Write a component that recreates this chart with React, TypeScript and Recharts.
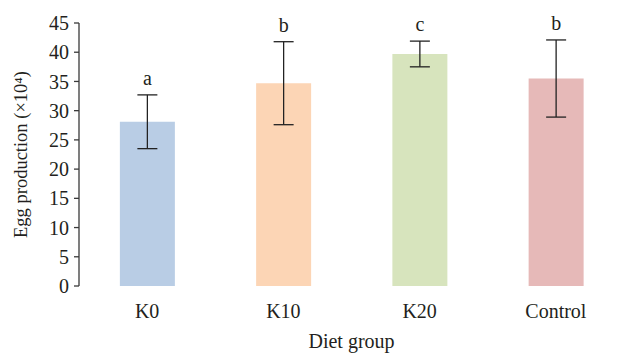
import { Bar, BarChart, Cell, ErrorBar, LabelList, XAxis, YAxis } from "recharts";

const GRUPOS = ["K0", "K10", "K20", "Control"];
const MEDIAS = [28.1, 34.7, 39.7, 35.5];
const DESVIOS = [4.6, 7.1, 2.2, 6.6];
const LETRAS = ["a", "b", "c", "b"];
const CORES = ["#b9cde5", "#fcd5b5", "#d7e4bd", "#e6b9b8"];
const TICKS_Y = [0, 5, 10, 15, 20, 25, 30, 35, 40, 45];
const LIMITES_X = [0, 1, 2, 3, 4];

const FONTE = "'Liberation Serif', 'DejaVu Serif', serif";
const TAM = 20;
const COR_TEXTO = "#231f20";
const COR_EIXO = "#3a3a3a";

const dados = GRUPOS.map((grupo, i) => ({
  grupo,
  media: MEDIAS[i],
  desvio: DESVIOS[i],
  letra: LETRAS[i],
}));

function LetraSignificancia(props: any) {
  const { x, y, width, height, value, index } = props;
  const pxPorUnidade = height / MEDIAS[index];
  const topoErro = y + height - (MEDIAS[index] + DESVIOS[index]) * pxPorUnidade;
  return (
    <text
      x={x + width / 2}
      y={topoErro - 10}
      textAnchor="middle"
      fill={COR_TEXTO}
      fontSize={TAM}
      fontFamily={FONTE}
    >
      {value}
    </text>
  );
}

export default function App() {
  return (
    <div
      style={{
        position: "absolute",
        left: 0,
        top: 0,
        width: 624,
        height: 353,
        background: "#fff",
      }}
    >
      <BarChart
        width={624}
        height={353}
        data={dados}
        margin={{ top: 23, right: 0, bottom: 0, left: 0 }}
        barCategoryGap="30%"
      >
        <XAxis
          xAxisId="limites"
          type="number"
          domain={[0, 4]}
          ticks={LIMITES_X}
          tick={false}
          tickSize={6}
          height={0}
          axisLine={{ stroke: COR_EIXO, strokeWidth: 1.3 }}
          tickLine={{ stroke: COR_EIXO, strokeWidth: 1.3 }}
          allowDataOverflow
        />
        <XAxis
          dataKey="grupo"
          axisLine={false}
          tickLine={false}
          height={67}
          tickMargin={12}
          tick={{ fill: COR_TEXTO, fontSize: TAM, fontFamily: FONTE }}
          label={{
            value: "Diet group",
            position: "insideBottom",
            offset: 5,
            fill: COR_TEXTO,
            fontSize: TAM,
            fontFamily: FONTE,
          }}
        />
        <YAxis
          width={79}
          domain={[0, 45]}
          ticks={TICKS_Y}
          interval={0}
          tickSize={5}
          tickMargin={5}
          axisLine={{ stroke: COR_EIXO, strokeWidth: 1.3 }}
          tickLine={{ stroke: COR_EIXO, strokeWidth: 1.3 }}
          tick={{ fill: COR_TEXTO, fontSize: TAM, fontFamily: FONTE }}
          label={{
            value: "Egg production (×10⁴)",
            angle: -90,
            position: "insideLeft",
            offset: 20,
            style: { textAnchor: "middle" },
            fill: COR_TEXTO,
            fontSize: 18.5,
            fontFamily: FONTE,
          }}
        />
        <Bar dataKey="media" isAnimationActive={false}>
          {dados.map((d, i) => (
            <Cell key={d.grupo} fill={CORES[i]} />
          ))}
          <ErrorBar
            dataKey="desvio"
            width={10}
            stroke="#222"
            strokeWidth={1.3}
          />
          <LabelList dataKey="letra" content={LetraSignificancia} />
        </Bar>
      </BarChart>
    </div>
  );
}
